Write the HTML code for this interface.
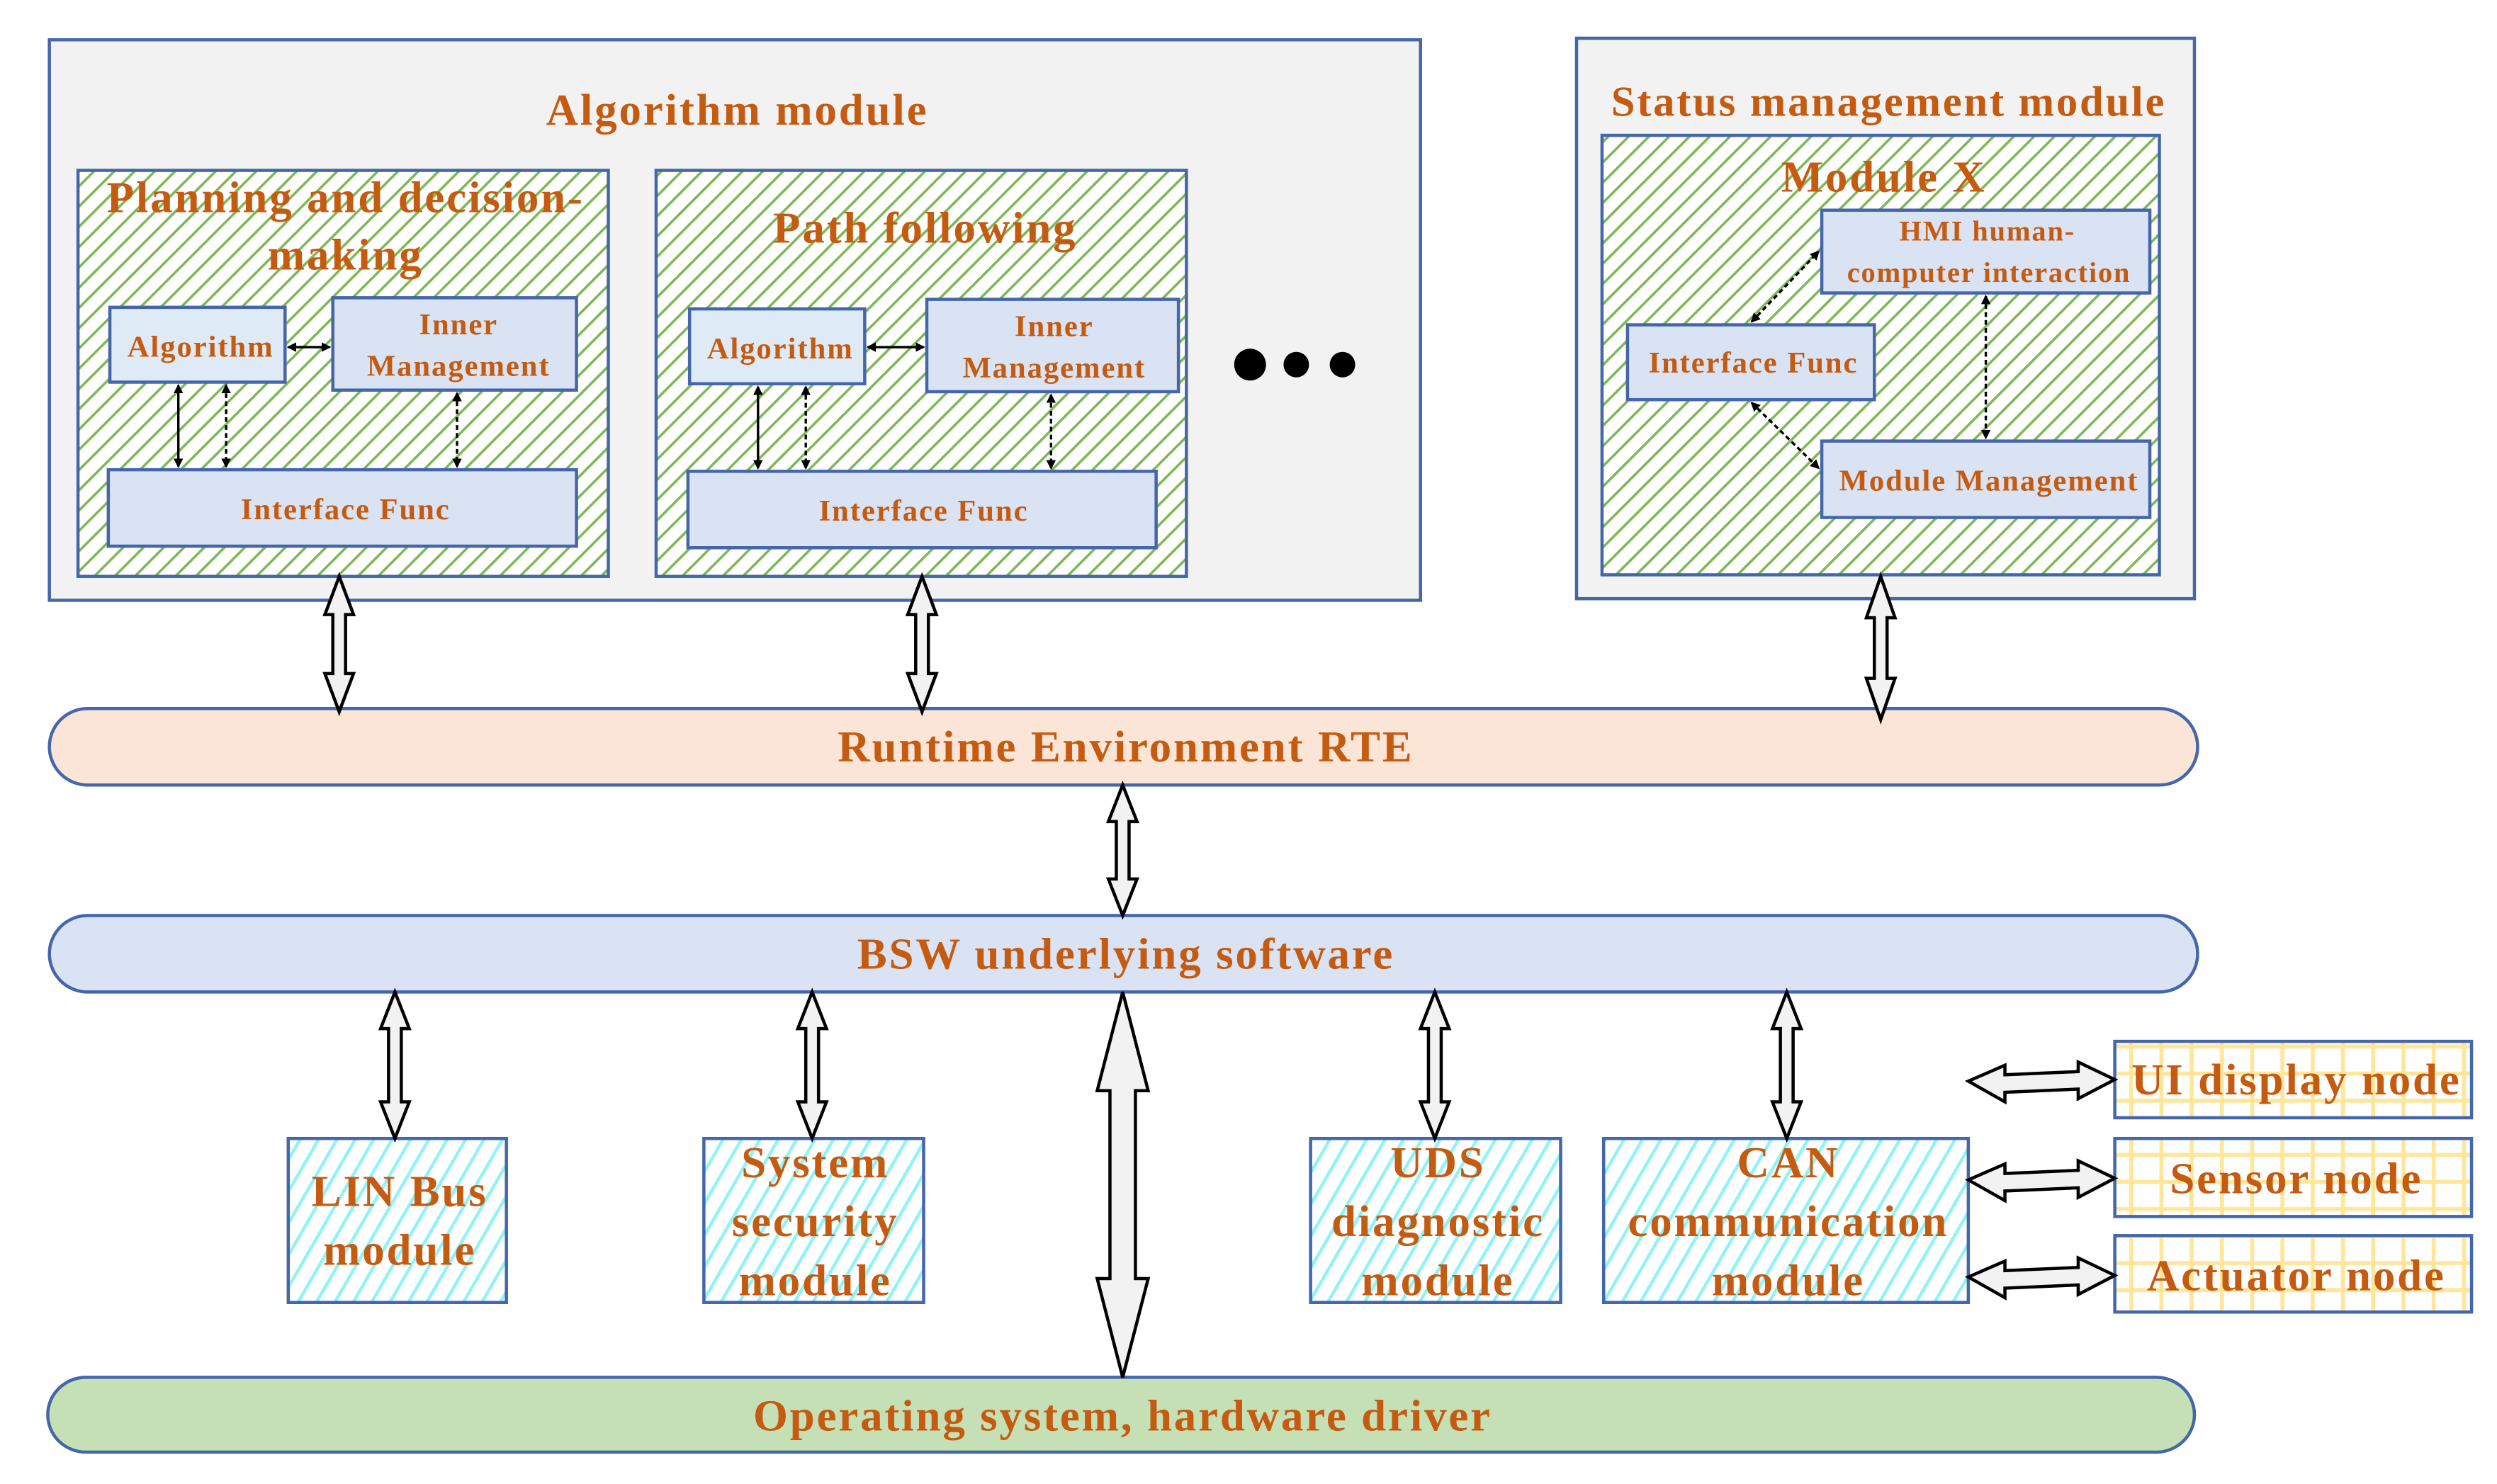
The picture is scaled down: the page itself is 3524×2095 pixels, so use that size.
<!DOCTYPE html>
<html><head><meta charset="utf-8"><style>
html,body{margin:0;padding:0;background:#fff;}
svg{display:block;}
text{font-family:"Liberation Serif",serif;font-weight:bold;fill:#c55a11;text-anchor:middle;dominant-baseline:central;letter-spacing:0.045em;}
</style></head><body>
<svg width="3524" height="2095" viewBox="0 0 1568 932" preserveAspectRatio="none" xmlns="http://www.w3.org/2000/svg">
<defs>
<pattern id="g" width="9" height="9" patternUnits="userSpaceOnUse" patternTransform="rotate(45)">
<rect width="9" height="9" fill="#fff"/><rect x="0" y="0" width="1.6" height="9" fill="#7fb857"/></pattern>
<pattern id="c" width="10" height="10" patternUnits="userSpaceOnUse" patternTransform="rotate(30)">
<rect width="10" height="10" fill="#fff"/><rect x="0" y="0" width="2" height="10" fill="#8ff3f7"/></pattern>
<pattern id="y" width="19" height="17" patternUnits="userSpaceOnUse">
<rect width="19" height="17" fill="#fff"/><rect x="7" y="0" width="2.5" height="17" fill="#ffe699"/><rect x="0" y="10" width="19" height="2.5" fill="#ffe699"/></pattern>
<marker id="ah" markerWidth="6" markerHeight="6" refX="5" refY="3" orient="auto-start-reverse" markerUnits="userSpaceOnUse"><path d="M0,0 L6,3 L0,6 z" fill="#000"/></marker>
</defs>
<g stroke="#4466aa" stroke-width="2">
<rect x="31" y="25" width="861" height="352" fill="#f2f2f2"/>
<rect x="990" y="24" width="388" height="352" fill="#f2f2f2"/>
<rect x="49" y="107" width="333" height="255" fill="url(#g)"/>
<rect x="412" y="107" width="333" height="255" fill="url(#g)"/>
<rect x="1006" y="85" width="350" height="276" fill="url(#g)"/>
<rect x="69" y="193" width="110" height="47" fill="#deebf7"/>
<rect x="209" y="187" width="153" height="58" fill="#dae3f3"/>
<rect x="68" y="295" width="294" height="48" fill="#dae3f3"/>
<rect x="433" y="194" width="110" height="47" fill="#deebf7"/>
<rect x="582" y="188" width="158" height="58" fill="#dae3f3"/>
<rect x="432" y="296" width="294" height="48" fill="#dae3f3"/>
<rect x="1144" y="132" width="206" height="52" fill="#dae3f3"/>
<rect x="1022" y="204" width="155" height="47" fill="#dae3f3"/>
<rect x="1144" y="277" width="206" height="48" fill="#dae3f3"/>
<rect x="31" y="445" width="1349" height="48" rx="24" fill="#fbe5d6"/>
<rect x="31" y="575" width="1349" height="48" rx="24" fill="#dae3f3"/>
<rect x="30" y="865" width="1348" height="47" rx="24" fill="#c5e0b4"/>
<rect x="181" y="715" width="137" height="103" fill="url(#c)"/>
<rect x="442" y="715" width="138" height="103" fill="url(#c)"/>
<rect x="823" y="715" width="157" height="103" fill="url(#c)"/>
<rect x="1007" y="715" width="229" height="103" fill="url(#c)"/>
<rect x="1328" y="654" width="224" height="48" fill="url(#y)"/>
<rect x="1328" y="715" width="224" height="49" fill="url(#y)"/>
<rect x="1328" y="776" width="224" height="48" fill="url(#y)"/>
</g>
<g stroke="#000" stroke-width="1.5" fill="none" marker-start="url(#ah)" marker-end="url(#ah)">
<line x1="181" y1="218" x2="207" y2="218"/>
<line x1="112" y1="242" x2="112" y2="293"/>
<line x1="142" y1="242" x2="142" y2="293" stroke-dasharray="3,2"/>
<line x1="287" y1="247" x2="287" y2="293" stroke-dasharray="3,2"/>
<line x1="545" y1="218" x2="580" y2="218"/>
<line x1="476" y1="243" x2="476" y2="294"/>
<line x1="506" y1="243" x2="506" y2="294" stroke-dasharray="3,2"/>
<line x1="660" y1="248" x2="660" y2="294" stroke-dasharray="3,2"/>
<line x1="1100" y1="202" x2="1142" y2="158" stroke-dasharray="3,2"/>
<line x1="1247" y1="186" x2="1247" y2="275" stroke-dasharray="3,2"/>
<line x1="1100" y1="253" x2="1142" y2="294" stroke-dasharray="3,2"/>
</g>
<g fill="#f2f2f2" stroke="#000" stroke-width="2" stroke-linejoin="miter">
<polygon points="213,362 222,386 217,386 217,423 222,423 213,447 204,423 209,423 209,386 204,386"/>
<polygon points="579,362 588,386 583,386 583,423 588,423 579,447 570,423 575,423 575,386 570,386"/>
<polygon points="1181,362 1190,388 1185,388 1185,426 1190,426 1181,452 1172,426 1177,426 1177,388 1172,388"/>
<polygon points="705,493 714,516 709,516 709,552 714,552 705,575 696,552 701,552 701,516 696,516"/>
<polygon points="248,623 257,646 252,646 252,692 257,692 248,715 239,692 244,692 244,646 239,646"/>
<polygon points="510,623 519,646 514,646 514,692 519,692 510,715 501,692 506,692 506,646 501,646"/>
<polygon points="901,623 910,646 905,646 905,692 910,692 901,715 892,692 897,692 897,646 892,646"/>
<polygon points="1122,623 1131,646 1126,646 1126,692 1131,692 1122,715 1113,692 1118,692 1118,646 1113,646"/>
<polygon points="705,623 721,685 713,685 713,803 721,803 705,865 689,803 697,803 697,685 689,685"/>
<polygon points="1236,679 1259,669 1259,675 1305,673 1305,667 1328,678 1305,690 1305,684 1259,686 1259,692"/>
<polygon points="1236,741 1259,731 1259,737 1305,735 1305,729 1328,740 1305,752 1305,746 1259,748 1259,754"/>
<polygon points="1236,802 1259,792 1259,798 1305,796 1305,790 1328,801 1305,813 1305,807 1259,809 1259,815"/>
</g>
<circle cx="785" cy="229" r="10" fill="#000"/>
<circle cx="814" cy="229" r="8" fill="#000"/>
<circle cx="843" cy="229" r="8" fill="#000"/>
<text x="463" y="69" font-size="28">Algorithm module</text>
<text x="1186" y="64" font-size="27">Status management module</text>
<text x="217" y="124" font-size="28">Planning and decision-</text>
<text x="217" y="160" font-size="28">making</text>
<text x="581" y="143" font-size="28">Path following</text>
<text x="1183" y="111" font-size="28">Module X</text>
<text x="126" y="218" font-size="19">Algorithm</text>
<text x="288" y="204" font-size="19">Inner</text>
<text x="288" y="230" font-size="19">Management</text>
<text x="217" y="320" font-size="19">Interface Func</text>
<text x="490" y="219" font-size="19">Algorithm</text>
<text x="662" y="205" font-size="19">Inner</text>
<text x="662" y="231" font-size="19">Management</text>
<text x="580" y="321" font-size="19">Interface Func</text>
<text x="1248" y="145" font-size="18">HMI human-</text>
<text x="1249" y="171" font-size="18">computer interaction</text>
<text x="1101" y="228" font-size="19">Interface Func</text>
<text x="1249" y="302" font-size="19">Module Management</text>
<text x="707" y="469" font-size="28">Runtime Environment RTE</text>
<text x="707" y="599" font-size="28">BSW underlying software</text>
<text x="705" y="889" font-size="28">Operating system, hardware driver</text>
<text x="251" y="748" font-size="28">LIN Bus</text>
<text x="251" y="785" font-size="28">module</text>
<text x="512" y="730" font-size="28">System</text>
<text x="512" y="767" font-size="28">security</text>
<text x="512" y="804" font-size="28">module</text>
<text x="903" y="730" font-size="28">UDS</text>
<text x="903" y="767" font-size="28">diagnostic</text>
<text x="903" y="804" font-size="28">module</text>
<text x="1123" y="730" font-size="28">CAN</text>
<text x="1123" y="767" font-size="28">communication</text>
<text x="1123" y="804" font-size="28">module</text>
<text x="1442" y="678" font-size="28">UI display node</text>
<text x="1442" y="740" font-size="28">Sensor node</text>
<text x="1442" y="801" font-size="28">Actuator node</text>
</svg>
</body></html>
